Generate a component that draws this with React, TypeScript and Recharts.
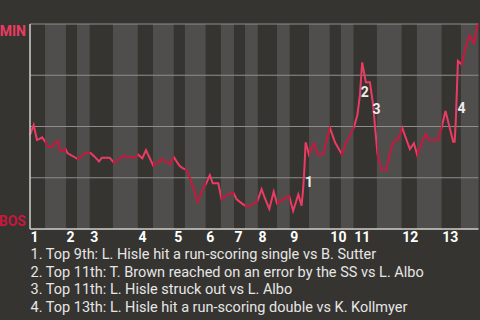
import React from "react";
import { LineChart, Line, XAxis, YAxis, ReferenceArea, ReferenceLine, ReferenceDot } from "recharts";

// play-by-play index (plate appearance order) and MIN win probability after each play
const playIndex = [
  0, 1.0, 1.9, 2.5, 3.3, 4.0, 5.1, 5.7, 7.6, 8.3, 9.2, 9.7, 10.2, 11.0, 12.2, 13.1, 14.2, 15.6, 16.4, 17.6,
  18.8, 19.6, 21.7, 22.9, 24.2, 25.5, 26.7, 28.8, 29.4, 30.6, 31.6, 32.5, 33.6, 36.1, 38.1, 39.2, 40.1, 40.8, 41.7, 42.7,
  43.6, 44.5, 45.6, 46.3, 47.0, 47.9, 49.0, 49.8, 51.3, 52.2, 53.1, 54.3, 55.4, 56.3, 57.7, 59.0, 60.2, 61.9, 63.1, 64.0,
  65.2, 66.4, 67.3, 70.6, 71.7, 73.1, 74.0, 74.4, 74.7, 75.1, 76.0, 77.3, 78.5, 79.9, 81.7, 83.1, 85.0, 86.2, 88.3, 89.2,
  89.9, 90.5, 91.5, 92.6, 93.5, 94.0, 94.7, 95.8, 97.1, 98.5, 99.4, 100.3, 101.4, 102.6, 103.5, 104.6, 105.5, 106.7, 107.8, 108.7,
  111.2, 112.1, 113.2, 114.4, 115.3, 115.7, 116.0, 116.4, 116.6, 117.6, 118.7, 119.8, 121.0, 121.9, 122.2,
];
const minWinProb = [
  0.459, 0.507, 0.434, 0.438, 0.447, 0.43, 0.4, 0.4, 0.43, 0.38, 0.38, 0.39, 0.37, 0.362, 0.35, 0.34, 0.358, 0.372, 0.372, 0.353,
  0.33, 0.348, 0.348, 0.323, 0.34, 0.358, 0.35, 0.35, 0.364, 0.345, 0.385, 0.35, 0.309, 0.341, 0.316, 0.35, 0.325, 0.307, 0.296, 0.288,
  0.247, 0.199, 0.133, 0.158, 0.194, 0.218, 0.263, 0.223, 0.223, 0.145, 0.158, 0.171, 0.177, 0.145, 0.125, 0.109, 0.117, 0.133, 0.194, 0.15,
  0.098, 0.182, 0.125, 0.162, 0.088, 0.169, 0.114, 0.19, 0.272, 0.423, 0.364, 0.418, 0.364, 0.364, 0.494, 0.423, 0.364, 0.423, 0.499, 0.556,
  0.654, 0.813, 0.716, 0.716, 0.605, 0.499, 0.364, 0.288, 0.288, 0.401, 0.434, 0.434, 0.494, 0.434, 0.39, 0.418, 0.361, 0.418, 0.462, 0.434,
  0.434, 0.491, 0.576, 0.49, 0.426, 0.426, 0.523, 0.718, 0.82, 0.803, 0.889, 0.943, 0.906, 0.992, 1.0,
];

// start of each half inning (top 1, bottom 1, top 2, ...)
const halfInningStarts = [
  0, 4.1, 9.8, 12.8, 16.3, 22.6, 29.4, 33.5, 39.2, 42.2, 47.9, 52.0, 55.6, 58.6, 62.1, 67.3, 70.8, 76.0,
  81.7, 84.7, 88.2, 94.5, 101.3, 105.4, 112.2, 117.4,
];
const gameEnd = 122.2;
const inningLabels = ["1", "2", "3", "4", "5", "6", "7", "8", "9", "10", "11", "12", "13"];
const gridValues = [0.25, 0.5, 0.75, 1];

const annotationNumbers = ["1", "2", "3", "4"];
const annotationX = [76.0, 91.2, 94.4, 117.6];
const annotationY = [0.23, 0.666, 0.584, 0.589];

const notes = [
  "1. Top 9th: L. Hisle hit a run-scoring single vs B. Sutter",
  "2. Top 11th: T. Brown reached on an error by the SS vs L. Albo",
  "3. Top 11th: L. Hisle struck out vs L. Albo",
  "4. Top 13th: L. Hisle hit a run-scoring double vs K. Kollmyer",
];

const BG = "#363430";
const BAND = "#4f4e4c";
const MIN_COLOR = "#ec3b63";
const BOS_COLOR = "#c8173e";
const FONT = '"Liberation Sans Narrow", Roboto, sans-serif';

const data = playIndex.map((x, i) => ({ x, wp: minWinProb[i] }));
const halves = halfInningStarts.map((s, i) => ({
  start: s,
  end: i + 1 < halfInningStarts.length ? halfInningStarts[i + 1] : gameEnd,
  top: i % 2 === 0,
}));
const inningStarts = halfInningStarts.filter((_, i) => i % 2 === 0);
const xMin = playIndex[0];
const xMax = playIndex[playIndex.length - 1];

const XTick = (props: any) => {
  const { x, y, payload } = props;
  const idx = inningStarts.indexOf(payload.value);
  return (
    <text x={x + 0.5} y={y + 5} fill="#ffffff" fontSize={14} fontWeight={700} fontFamily={FONT} textAnchor="start">
      {inningLabels[idx]}
    </text>
  );
};

const YTick = (props: any) => {
  const { x, y, payload } = props;
  const isMin = payload.value === 1;
  return (
    <text
      x={x + 4}
      y={isMin ? y + 12 : y - 3}
      fill={isMin ? MIN_COLOR : BOS_COLOR}
      fontSize={14}
      fontWeight={700}
      fontFamily={FONT}
      textAnchor="end"
    >
      {isMin ? "MIN" : "BOS"}
    </text>
  );
};

export default function App() {
  return (
    <div style={{ position: "fixed", left: 0, top: 0, width: 480, height: 320, background: BG, overflow: "hidden" }}>
      <LineChart width={480} height={250} data={data} margin={{ top: 24, right: 1.5, bottom: 0, left: 0 }}>
        <defs>
          <linearGradient id="teamStroke" x1="0" y1="0" x2="1" y2="0">
            {halves.flatMap((h, i) => [
              <stop key={`a${i}`} offset={(h.start - xMin) / (xMax - xMin)} stopColor={h.top ? MIN_COLOR : BOS_COLOR} />,
              <stop key={`b${i}`} offset={(h.end - xMin) / (xMax - xMin)} stopColor={h.top ? MIN_COLOR : BOS_COLOR} />,
            ])}
          </linearGradient>
        </defs>
        <XAxis
          dataKey="x"
          type="number"
          domain={[xMin, gameEnd]}
          ticks={inningStarts}
          interval={0}
          tick={<XTick />}
          tickLine={false}
          axisLine={{ stroke: "#cfcfcd", strokeWidth: 1.5 }}
          height={21}
        />
        <YAxis
          type="number"
          domain={[0, 1]}
          ticks={[0, 1]}
          tick={<YTick />}
          tickLine={false}
          axisLine={{ stroke: "#cfcfcd", strokeWidth: 1.5 }}
          width={30}
        />
        {halves.map((h, i) => (
          <ReferenceArea
            key={`band${i}`}
            x1={h.start}
            x2={h.end}
            y1={0}
            y2={1}
            fill={h.top ? BG : BAND}
            fillOpacity={1}
            stroke="none"
          />
        ))}
        {gridValues.map((v) => (
          <ReferenceLine key={`g${v}`} y={v} stroke="#8e8d8b" strokeWidth={1} />
        ))}
        <Line
          dataKey="wp"
          type="linear"
          stroke="url(#teamStroke)"
          strokeWidth={2}
          dot={false}
          activeDot={false}
          isAnimationActive={false}
        />
        {annotationNumbers.map((n, i) => (
          <ReferenceDot
            key={`ann${n}`}
            x={annotationX[i]}
            y={annotationY[i]}
            r={1}
            shape={(p: any) => (
              <text
                x={p.cx}
                y={p.cy}
                fill="#ececec"
                fontSize={14}
                fontWeight={700}
                fontFamily={FONT}
                textAnchor="middle"
                dominantBaseline="central"
              >
                {n}
              </text>
            )}
          />
        ))}
      </LineChart>
      <svg width={480} height={80} style={{ position: "absolute", left: 0, top: 240 }}>
        {notes.map((t, i) => (
          <text key={i} x={30.5} y={19.3 + i * 17.5} fill="#e6e6e6" fontSize={14.5} fontFamily={FONT}>
            {t}
          </text>
        ))}
      </svg>
    </div>
  );
}
